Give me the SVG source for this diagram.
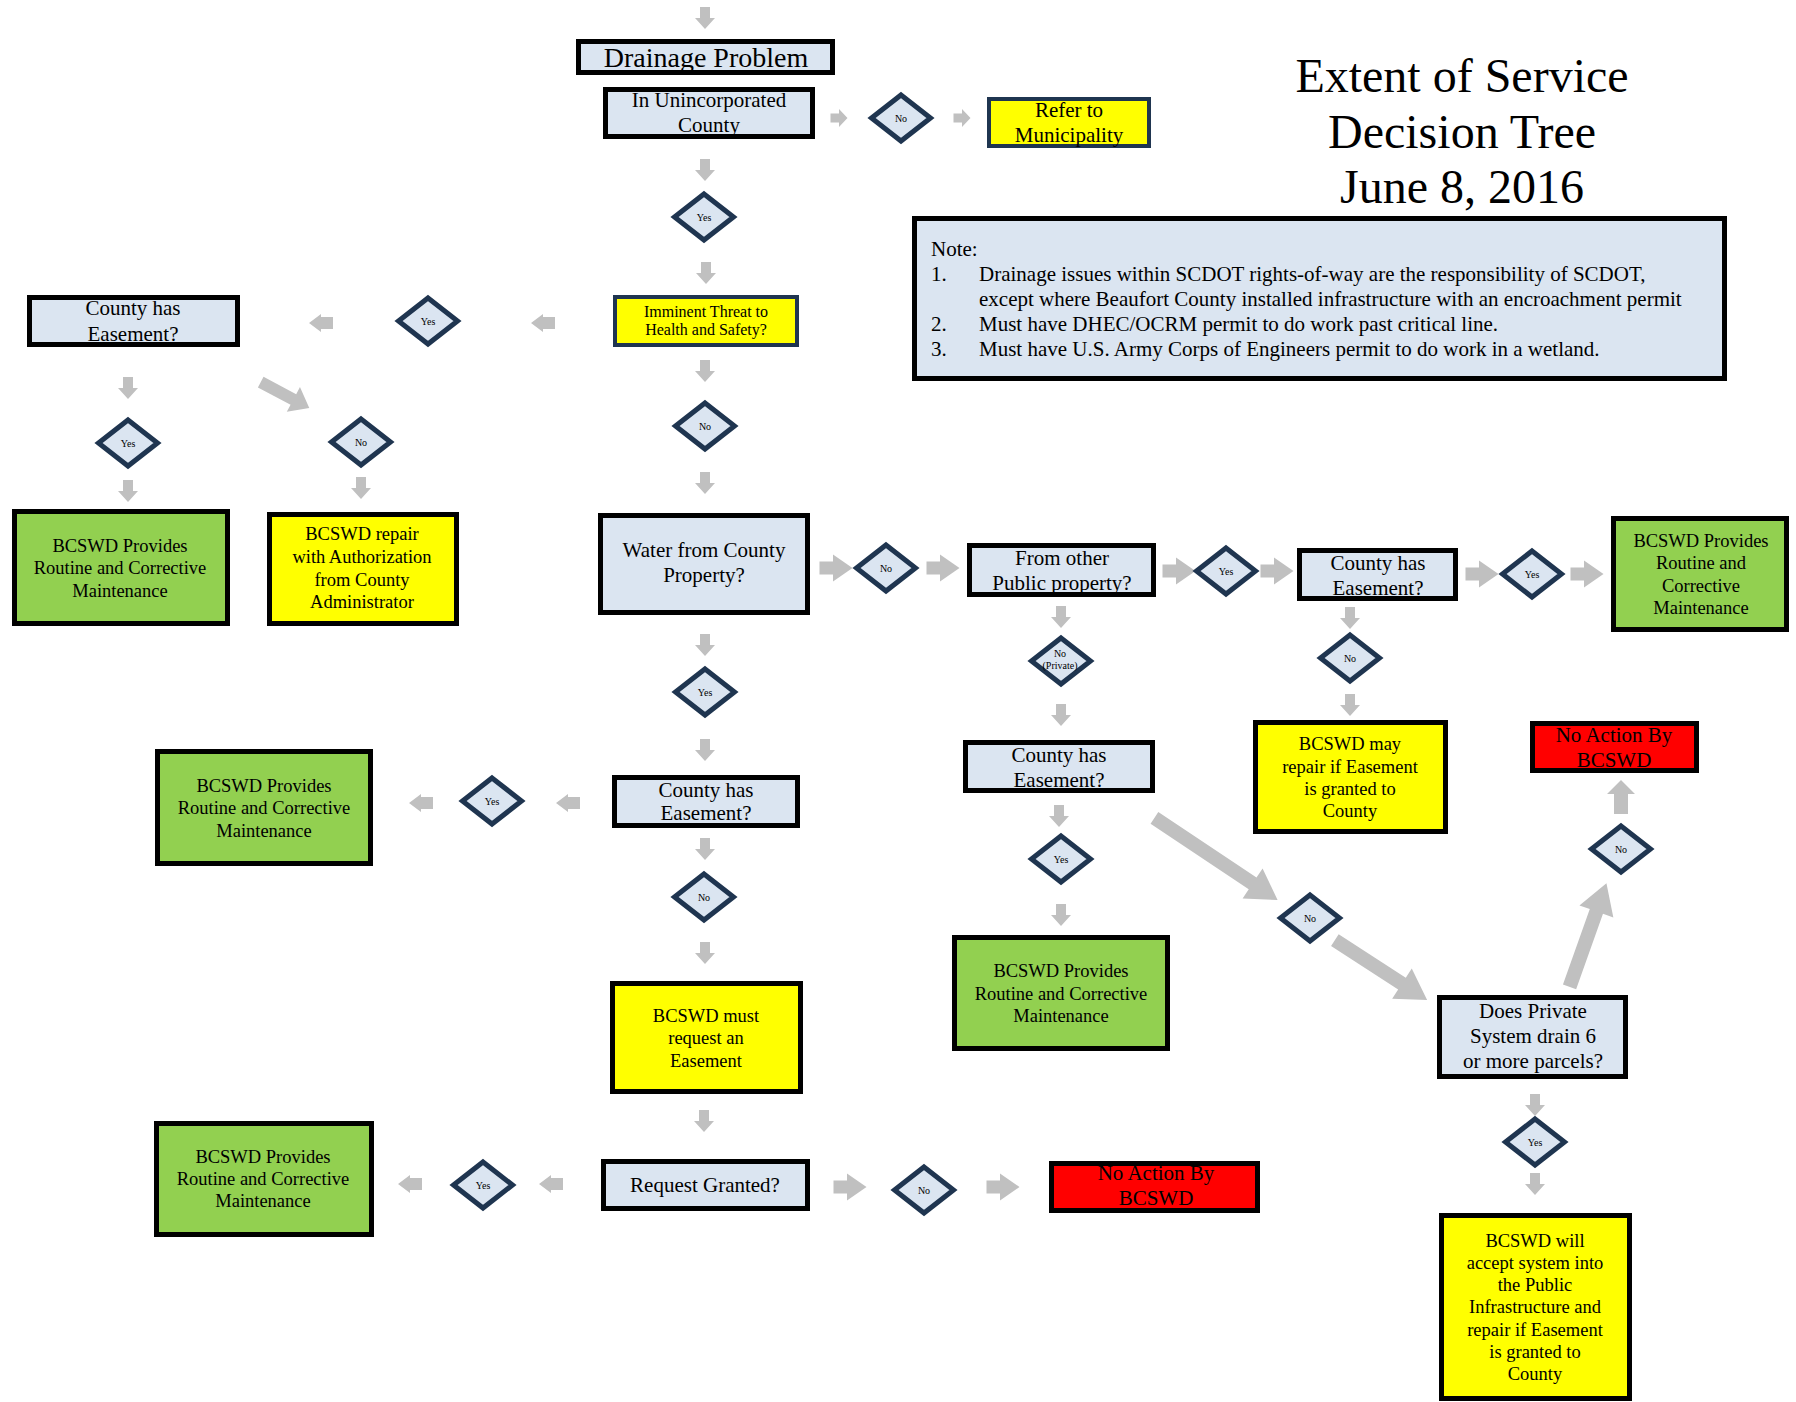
<svg xmlns="http://www.w3.org/2000/svg" xmlns:xlink="http://www.w3.org/1999/xlink" width="1796" height="1402" viewBox="0 0 1796 1402">
<style>
text{font-family:"Liberation Serif","Times New Roman",serif;fill:#000;text-anchor:middle}
.bk{stroke:#000;stroke-width:5}
.nv{stroke:#1f3550;stroke-width:4}
.lb{fill:#dbe5f1}.gr{fill:#92d050}.ye{fill:#ffff00}.rd{fill:#ff0000}
.t21{font-size:21px}.t18{font-size:18.5px}.t16{font-size:16px}
.dia{fill:#dbe5f1;stroke:#1f3550;stroke-width:5;stroke-linejoin:miter}
.dt{font-size:10px}
.ar{fill:#c0c0c0}
.tt{font-size:48px}
.nl{text-anchor:start;font-size:21px}
</style>
<defs>
<path id="dm" d="M0,-23L29.5,0L0,23L-29.5,0Z"/>
<path id="ad" d="M-5,-11H5V0H10L0,11L-10,0H-5Z"/>
<path id="as" d="M-8.5,-4.5H0V-9L8.5,0L0,9V4.5H-8.5Z"/>
<path id="al" d="M12,-6H0V-9L-12,0L0,9V6H12Z"/>
<path id="aR" d="M-16.5,-6.5H-3V-13.5L16.5,0L-3,13.5V6.5H-16.5Z"/>
</defs>
<rect width="1796" height="1402" fill="#fff"/>

<g id="title">
<text x="1462" y="92" class="tt">Extent of Service</text>
<text x="1462" y="148" class="tt">Decision Tree</text>
<text x="1462" y="203" class="tt">June 8, 2016</text>
</g>

<g id="note">
<rect x="914.5" y="218.5" width="810" height="160" class="lb bk"/>
<text x="931" y="256" class="nl">Note:</text>
<text x="931" y="281" class="nl">1.</text>
<text x="979" y="281" class="nl">Drainage issues within SCDOT rights-of-way are the responsibility of SCDOT,</text>
<text x="979" y="306" class="nl">except where Beaufort County installed infrastructure with an encroachment permit</text>
<text x="931" y="331" class="nl">2.</text>
<text x="979" y="331" class="nl">Must have DHEC/OCRM permit to do work past critical line.</text>
<text x="931" y="356" class="nl">3.</text>
<text x="979" y="356" class="nl">Must have U.S. Army Corps of Engineers permit to do work in a wetland.</text>
</g>

<g id="connectors" class="ar">
<use href="#ad" x="705" y="18"/>
<use href="#ad" x="705" y="170"/>
<use href="#ad" x="706" y="273"/>
<use href="#ad" x="705" y="371"/>
<use href="#ad" x="705" y="483"/>
<use href="#ad" x="128" y="388"/>
<use href="#ad" x="128" y="491"/>
<use href="#ad" x="361" y="488"/>
<use href="#ad" x="705" y="645"/>
<use href="#ad" x="705" y="750"/>
<use href="#ad" x="705" y="849"/>
<use href="#ad" x="705" y="953"/>
<use href="#ad" x="704" y="1121"/>
<use href="#ad" x="1061" y="617"/>
<use href="#ad" x="1061" y="715"/>
<use href="#ad" x="1059" y="816"/>
<use href="#ad" x="1061" y="915"/>
<use href="#ad" x="1350" y="618"/>
<use href="#ad" x="1350" y="705"/>
<use href="#ad" x="1535" y="1105"/>
<use href="#ad" x="1535" y="1184"/>
<use href="#as" x="839" y="118"/>
<use href="#as" x="962" y="118"/>
<use href="#al" x="543" y="323"/>
<use href="#al" x="321" y="323"/>
<use href="#al" x="568" y="803"/>
<use href="#al" x="421" y="803"/>
<use href="#al" x="551" y="1184"/>
<use href="#al" x="410" y="1184"/>
<use href="#aR" x="836" y="568"/>
<use href="#aR" x="943" y="568"/>
<use href="#aR" x="1179" y="571"/>
<use href="#aR" x="1277" y="571"/>
<use href="#aR" x="1482" y="574"/>
<use href="#aR" x="1587" y="574"/>
<use href="#aR" x="850" y="1187"/>
<use href="#aR" x="1003" y="1187"/>
<path d="M-7,17V-3H-14L0,-17L14,-3H7V17Z" transform="translate(1621,797)"/>
<path d="M-27.5,-6H9.5V-14L27.5,0L9.5,14V6H-27.5Z" transform="translate(285,395) rotate(28)"/>
<path d="M-74,-7H44V-18L74,0L44,18V7H-74Z" transform="translate(1216,859) rotate(33.7)"/>
<path d="M-55,-7H25V-18L55,0L25,18V7H-55Z" transform="translate(1381,970) rotate(33)"/>
<path d="M-55,-7H25V-18L55,0L25,18V7H-55Z" transform="translate(1588,935) rotate(-70.4)"/>
</g>

<g id="n-drainage">
<rect x="578.5" y="41.5" width="254" height="31" class="lb bk"/>
<text x="706" y="67" style="font-size:28px">Drainage Problem</text>
</g>
<g id="n-unincorporated">
<rect x="605.5" y="89.5" width="207" height="47" class="lb bk"/>
<text x="709" y="107" class="t21">In Unincorporated</text>
<text x="709" y="132" class="t21">County</text>
</g>
<g id="n-refer">
<rect x="989" y="99" width="160" height="47" class="ye nv"/>
<text x="1069" y="117" class="t21">Refer to</text>
<text x="1069" y="142" class="t21">Municipality</text>
</g>
<g id="n-imminent">
<rect x="615" y="297" width="182" height="48" class="ye nv"/>
<text x="706" y="317" class="t16">Imminent Threat to</text>
<text x="706" y="335" class="t16">Health and Safety?</text>
</g>
<g id="n-county-left">
<rect x="29.5" y="297.5" width="208" height="47" class="lb bk"/>
<text x="133" y="315" class="t21">County has</text>
<text x="133" y="341" class="t21">Easement?</text>
</g>
<g id="n-green-left">
<rect x="14.5" y="511.5" width="213" height="112" class="gr bk"/>
<text x="120" y="552" class="t18">BCSWD Provides</text>
<text x="120" y="574" class="t18">Routine and Corrective</text>
<text x="120" y="597" class="t18">Maintenance</text>
</g>
<g id="n-repair-auth">
<rect x="269.5" y="514.5" width="187" height="109" class="ye bk"/>
<text x="362" y="540" class="t18">BCSWD repair</text>
<text x="362" y="563" class="t18">with Authorization</text>
<text x="362" y="586" class="t18">from County</text>
<text x="362" y="608" class="t18">Administrator</text>
</g>
<g id="n-water">
<rect x="600.5" y="515.5" width="207" height="97" class="lb bk"/>
<text x="704" y="557" class="t21">Water from County</text>
<text x="704" y="582" class="t21">Property?</text>
</g>
<g id="n-other-public">
<rect x="969.5" y="545.5" width="184" height="49" class="lb bk"/>
<text x="1062" y="565" class="t21">From other</text>
<text x="1062" y="590" class="t21">Public property?</text>
</g>
<g id="n-county-right">
<rect x="1299.5" y="550.5" width="156" height="48" class="lb bk"/>
<text x="1378" y="570" class="t21">County has</text>
<text x="1378" y="595" class="t21">Easement?</text>
</g>
<g id="n-green-right">
<rect x="1613.5" y="518.5" width="173" height="111" class="gr bk"/>
<text x="1701" y="547" class="t18">BCSWD Provides</text>
<text x="1701" y="569" class="t18">Routine and</text>
<text x="1701" y="592" class="t18">Corrective</text>
<text x="1701" y="614" class="t18">Maintenance</text>
</g>
<g id="n-county-mid">
<rect x="614.5" y="777.5" width="183" height="48" class="lb bk"/>
<text x="706" y="797" class="t21">County has</text>
<text x="706" y="820" class="t21">Easement?</text>
</g>
<g id="n-green-mid">
<rect x="157.5" y="751.5" width="213" height="112" class="gr bk"/>
<text x="264" y="792" class="t18">BCSWD Provides</text>
<text x="264" y="814" class="t18">Routine and Corrective</text>
<text x="264" y="837" class="t18">Maintenance</text>
</g>
<g id="n-county-private">
<rect x="965.5" y="742.5" width="187" height="48" class="lb bk"/>
<text x="1059" y="762" class="t21">County has</text>
<text x="1059" y="787" class="t21">Easement?</text>
</g>
<g id="n-may-repair">
<rect x="1255.5" y="722.5" width="190" height="109" class="ye bk"/>
<text x="1350" y="750" class="t18">BCSWD may</text>
<text x="1350" y="773" class="t18">repair if Easement</text>
<text x="1350" y="795" class="t18">is granted to</text>
<text x="1350" y="817" class="t18">County</text>
</g>
<g id="n-noaction-top">
<rect x="1532.5" y="723.5" width="164" height="47" class="rd bk"/>
<text x="1614" y="742" class="t21">No Action By</text>
<text x="1614" y="767" class="t21">BCSWD</text>
</g>
<g id="n-green-private">
<rect x="954.5" y="937.5" width="213" height="111" class="gr bk"/>
<text x="1061" y="977" class="t18">BCSWD Provides</text>
<text x="1061" y="1000" class="t18">Routine and Corrective</text>
<text x="1061" y="1022" class="t18">Maintenance</text>
</g>
<g id="n-must-request">
<rect x="612.5" y="983.5" width="188" height="108" class="ye bk"/>
<text x="706" y="1022" class="t18">BCSWD must</text>
<text x="706" y="1044" class="t18">request an</text>
<text x="706" y="1067" class="t18">Easement</text>
</g>
<g id="n-does-private">
<rect x="1439.5" y="997.5" width="186" height="79" class="lb bk"/>
<text x="1533" y="1018" class="t21">Does Private</text>
<text x="1533" y="1043" class="t21">System drain 6</text>
<text x="1533" y="1068" class="t21">or more parcels?</text>
</g>
<g id="n-request">
<rect x="603.5" y="1161.5" width="204" height="47" class="lb bk"/>
<text x="705" y="1192" class="t21">Request Granted?</text>
</g>
<g id="n-green-bottom">
<rect x="156.5" y="1123.5" width="215" height="111" class="gr bk"/>
<text x="263" y="1163" class="t18">BCSWD Provides</text>
<text x="263" y="1185" class="t18">Routine and Corrective</text>
<text x="263" y="1207" class="t18">Maintenance</text>
</g>
<g id="n-noaction-bottom">
<rect x="1051.5" y="1163.5" width="206" height="47" class="rd bk"/>
<text x="1156" y="1180" class="t21">No Action By</text>
<text x="1156" y="1205" class="t21">BCSWD</text>
</g>
<g id="n-will-accept">
<rect x="1441.5" y="1215.5" width="188" height="183" class="ye bk"/>
<text x="1535" y="1247" class="t18">BCSWD will</text>
<text x="1535" y="1269" class="t18">accept system into</text>
<text x="1535" y="1291" class="t18">the Public</text>
<text x="1535" y="1313" class="t18">Infrastructure and</text>
<text x="1535" y="1336" class="t18">repair if Easement</text>
<text x="1535" y="1358" class="t18">is granted to</text>
<text x="1535" y="1380" class="t18">County</text>
</g>

<g id="d1"><use href="#dm" x="901" y="118" class="dia"/><text x="901" y="121.5" class="dt">No</text></g>
<g id="d2"><use href="#dm" x="704" y="217" class="dia"/><text x="704" y="220.5" class="dt">Yes</text></g>
<g id="d3"><use href="#dm" x="428" y="321" class="dia"/><text x="428" y="324.5" class="dt">Yes</text></g>
<g id="d4"><use href="#dm" x="128" y="443" class="dia"/><text x="128" y="446.5" class="dt">Yes</text></g>
<g id="d5"><use href="#dm" x="361" y="442" class="dia"/><text x="361" y="445.5" class="dt">No</text></g>
<g id="d6"><use href="#dm" x="705" y="426" class="dia"/><text x="705" y="429.5" class="dt">No</text></g>
<g id="d7"><use href="#dm" x="886" y="568" class="dia"/><text x="886" y="571.5" class="dt">No</text></g>
<g id="d8"><use href="#dm" x="1226" y="571" class="dia"/><text x="1226" y="574.5" class="dt">Yes</text></g>
<g id="d9"><use href="#dm" x="705" y="692" class="dia"/><text x="705" y="695.5" class="dt">Yes</text></g>
<g id="d10"><use href="#dm" x="1061" y="661" class="dia"/><text x="1060" y="657" class="dt">No</text><text x="1060" y="669" class="dt">(Private)</text></g>
<g id="d11"><use href="#dm" x="1532" y="574" class="dia"/><text x="1532" y="577.5" class="dt">Yes</text></g>
<g id="d12"><use href="#dm" x="1350" y="658" class="dia"/><text x="1350" y="661.5" class="dt">No</text></g>
<g id="d13"><use href="#dm" x="492" y="801" class="dia"/><text x="492" y="804.5" class="dt">Yes</text></g>
<g id="d14"><use href="#dm" x="704" y="897" class="dia"/><text x="704" y="900.5" class="dt">No</text></g>
<g id="d15"><use href="#dm" x="1061" y="859" class="dia"/><text x="1061" y="862.5" class="dt">Yes</text></g>
<g id="d16"><use href="#dm" x="1310" y="918" class="dia"/><text x="1310" y="921.5" class="dt">No</text></g>
<g id="d17"><use href="#dm" x="1621" y="849" class="dia"/><text x="1621" y="852.5" class="dt">No</text></g>
<g id="d18"><use href="#dm" x="483" y="1185" class="dia"/><text x="483" y="1188.5" class="dt">Yes</text></g>
<g id="d19"><use href="#dm" x="924" y="1190" class="dia"/><text x="924" y="1193.5" class="dt">No</text></g>
<g id="d20"><use href="#dm" x="1535" y="1142" class="dia"/><text x="1535" y="1145.5" class="dt">Yes</text></g>
</svg>
